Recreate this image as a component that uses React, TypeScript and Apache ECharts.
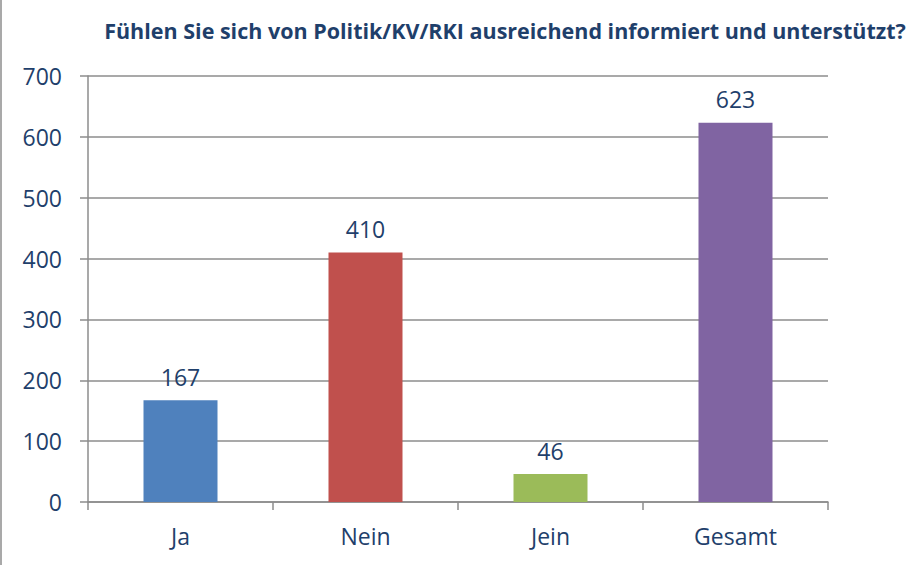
import React, { useEffect, useRef } from "react";
import * as echarts from "echarts";

const title = "Fühlen Sie sich von Politik/KV/RKI ausreichend informiert und unterstützt?";
const categories = ["Ja", "Nein", "Jein", "Gesamt"];
const values = [167, 410, 46, 623];
const colors = ["#4F81BD", "#C0504D", "#9BBB59", "#8064A2"];

export default function App() {
  const ref = useRef<HTMLDivElement>(null);
  useEffect(() => {
    if (!ref.current) return;
    const chart = echarts.init(ref.current, null, { renderer: "svg" });
    const textColor = "#1F3F6B";
    const font = "Open Sans";
    chart.setOption({
      animation: false,
      backgroundColor: "#fff",
      title: {
        text: title,
        left: 500,
        textAlign: "center",
        top: 14,
        textStyle: { fontFamily: font, fontWeight: "bold", fontSize: 21.5, color: "#1F3F6B" },
      },
      graphic: [
        { type: "line", shape: { x1: 1, y1: 0, x2: 1, y2: 565 }, style: { stroke: "#8c8c8c", lineWidth: 1.5 } },
      ],
      grid: { left: 88, right: 80, top: 76, bottom: 63 },
      xAxis: {
        type: "category",
        data: categories,
        axisLine: { lineStyle: { color: "#8c8c8c", width: 1.5 } },
        axisTick: { show: true, length: 8, alignWithLabel: false, lineStyle: { color: "#8c8c8c", width: 1.5 } },
        axisLabel: { fontFamily: font, fontSize: 23, color: textColor, margin: 22 },
      },
      yAxis: {
        type: "value",
        min: 0,
        max: 700,
        interval: 100,
        axisLine: { show: true, lineStyle: { color: "#8c8c8c", width: 1.5 } },
        axisTick: { show: true, length: 8, lineStyle: { color: "#8c8c8c", width: 1.5 } },
        splitLine: { lineStyle: { color: "#8c8c8c", width: 1.5 } },
        axisLabel: { fontFamily: font, fontSize: 23, color: textColor, margin: 26 },
      },
      series: [
        {
          type: "bar",
          barWidth: "40%",
          data: values.map((v, i) => ({ value: v, itemStyle: { color: colors[i] } })),
          label: {
            show: true,
            position: "top",
            distance: 12,
            fontFamily: font,
            fontSize: 23,
            color: textColor,
          },
        },
      ],
    });
    return () => chart.dispose();
  }, []);
  return <div ref={ref} style={{ width: 908, height: 565, position: "absolute", left: 0, top: 0 }} />;
}
